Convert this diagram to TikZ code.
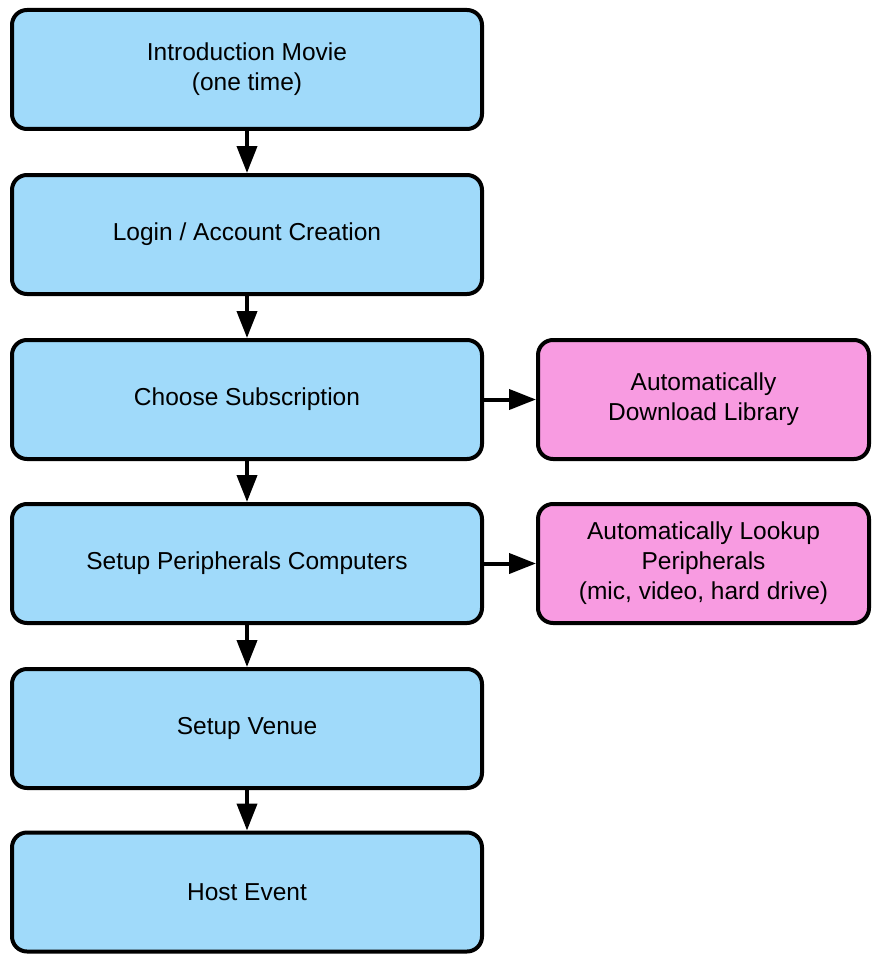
\documentclass[tikz,border=0pt]{standalone}
\usepackage{fontspec}
\setmainfont{Liberation Sans}
\usetikzlibrary{arrows.meta}
\definecolor{boxblue}{RGB}{160,218,250}
\definecolor{boxpink}{RGB}{248,155,225}
\tikzset{
  box/.style={draw=black, line width=4pt, rounded corners=15pt, fill=boxblue,
    minimum width=470pt, minimum height=119pt, align=center, inner sep=0pt,
    font=\fontsize{24.5}{30}\selectfont},
  sidebox/.style={box, fill=boxpink, minimum width=331pt},
  arr/.style={line width=4pt, -{Triangle[length=27pt,width=20pt]}}
}
\begin{document}
\begin{tikzpicture}[x=1pt,y=-1pt]
\useasboundingbox (0,0) rectangle (871,955);
\node[box] (n1) at (247,69.5) {Introduction Movie\\(one time)};
\node[box] (n2) at (247,234.5) {Login / Account Creation};
\node[box] (n3) at (247,399.5) {Choose Subscription};
\node[box] (n4) at (247,563.5) {Setup Peripherals Computers};
\node[box] (n5) at (247,728.5) {Setup Venue};
\node[box] (n6) at (247,892) {Host Event};
\node[sidebox] (s1) at (703.5,399.5) {Automatically\\Download Library};
\node[sidebox] (s2) at (703.5,563.5) {Automatically Lookup\\Peripherals\\(mic, video, hard drive)};
\draw[arr] (n1) -- (n2);
\draw[arr] (n2) -- (n3);
\draw[arr] (n3) -- (n4);
\draw[arr] (n4) -- (n5);
\draw[arr] (n5) -- (n6);
\draw[arr] (n3) -- (s1);
\draw[arr] (n4) -- (s2);
\end{tikzpicture}
\end{document}
